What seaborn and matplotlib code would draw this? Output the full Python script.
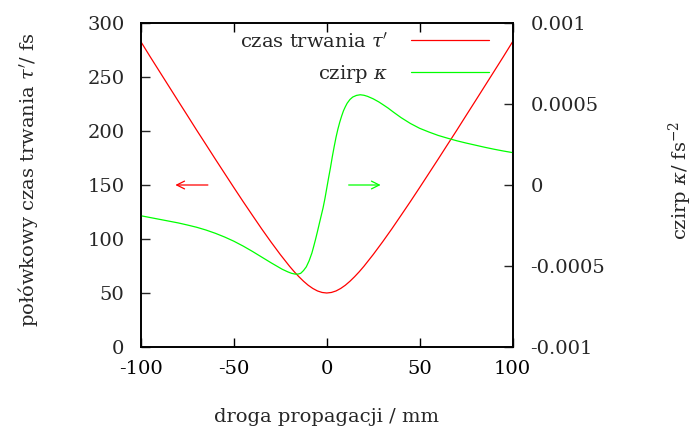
import matplotlib
matplotlib.use("Agg")
import matplotlib.pyplot as plt
import seaborn as sns
import pandas as pd

# pulse duration tau' (fs) vs propagation distance (mm)
z_tau = [-100, -95, -90, -85, -80, -75, -70, -65, -60, -55, -50, -45, -40, -35,
         -30, -25, -20, -17.5, -15, -12.5, -10, -7.5, -5, -2.5, 0, 2.5, 5, 7.5,
         10, 12.5, 15, 17.5, 20, 25, 30, 35, 40, 45, 50,
         55, 60, 65, 70, 75, 80, 85, 90, 95, 100]
tau = [282.5, 268.6, 255.0, 241.4, 227.8, 214.3, 200.7, 187.4, 174.0, 160.8,
       147.6, 134.6, 121.9, 109.3, 97.2, 85.6, 74.7, 69.7, 65.1, 60.9, 57.2,
       54.2, 51.9, 50.5, 50.0, 50.5, 51.9, 54.2, 57.2, 60.9, 65.1, 69.7,
       74.7, 85.6, 97.2, 109.3, 121.9, 134.6, 147.6, 160.8,
       174.0, 187.4, 200.7, 214.3, 227.8, 241.4, 255.0, 268.6, 282.5]

# chirp kappa (fs^-2) vs propagation distance (mm)
z_kappa = [-100, -95, -90, -85, -80, -75, -70, -65, -60, -55, -50, -45, -40,
           -35, -30, -27, -24, -21, -19, -17, -15.5, -14, -12.5, -11, -9.5, -8,
           -7, -6, -5, -4, -3, -2, -1, 0, 1, 2, 3, 4, 5, 6, 7, 8, 9, 10, 11,
           12.5, 14, 16, 18, 20, 22, 25, 28, 30, 33, 36, 40, 45, 50, 55, 60,
           65, 70, 75, 80, 85, 90, 95, 100]
kappa = [-0.00019, -0.000201, -0.000212, -0.000223, -0.000234, -0.000247,
         -0.000261, -0.000278, -0.000298, -0.000321, -0.000347, -0.000377,
         -0.00041, -0.000445, -0.00048, -0.0005, -0.00052, -0.000536,
         -0.000545, -0.00055, -0.00055, -0.000545, -0.000528, -0.000505,
         -0.000468, -0.00042, -0.000378, -0.000334, -0.000287, -0.000238,
         -0.00019, -0.000142, -0.000085, -0.00002, 0.000045, 0.000107,
         0.000175, 0.000237, 0.000295, 0.000345, 0.000388, 0.000425,
         0.000458, 0.000483, 0.000505, 0.000528, 0.000543, 0.000553,
         0.000557, 0.000554, 0.000547, 0.000532, 0.000513, 0.000498,
         0.000475, 0.000449, 0.000416, 0.00038, 0.00035, 0.000327,
         0.000306, 0.000289, 0.000273, 0.000259, 0.000246, 0.000233,
         0.000221, 0.00021, 0.0002]

x_ticks = [-100, -50, 0, 50, 100]
x_ticklabels = ["-100", "-50", "0", "50", "100"]
y1_ticks = [0, 50, 100, 150, 200, 250, 300]
y1_ticklabels = ["0", "50", "100", "150", "200", "250", "300"]
y2_ticks = [-0.001, -0.0005, 0, 0.0005, 0.001]
y2_ticklabels = ["-0.001", "-0.0005", "0", "0.0005", "0.001"]

legend_tau = "czas trwania $\\tau'$"
legend_kappa = "czirp $\\kappa$"

sns.set_style("white")
plt.rcParams["font.family"] = ["DejaVu Serif"]
plt.rcParams["mathtext.fontset"] = "dejavuserif"
plt.rcParams["axes.unicode_minus"] = False
FS = 14

fig = plt.figure(figsize=(6.96, 4.30), dpi=100)
ax = fig.add_axes([141 / 696, 1 - 347 / 430, (512.5 - 141) / 696, (347 - 23) / 430])
ax2 = ax.twinx()

df_tau = pd.DataFrame({"z": z_tau, "tau": tau})
df_kap = pd.DataFrame({"z": z_kappa, "kappa": kappa})

sns.lineplot(data=df_tau, x="z", y="tau", ax=ax, color="#ff0000", lw=0.9,
             label=legend_tau, legend=False)
sns.lineplot(data=df_kap, x="z", y="kappa", ax=ax2, color="#00ff00", lw=0.9,
             label=legend_kappa, legend=False)

ax.set_xlim(-100, 100)
ax.set_ylim(0, 300)
ax2.set_ylim(-0.001, 0.001)

ax.set_xticks(x_ticks)
ax.set_xticklabels(x_ticklabels, fontsize=FS)
ax.set_yticks(y1_ticks)
ax.set_yticklabels(y1_ticklabels, fontsize=FS)
ax2.set_yticks(y2_ticks)
ax2.set_yticklabels(y2_ticklabels, fontsize=FS)

ax.tick_params(axis="x", direction="in", length=6.5, width=1, top=True,
               bottom=True, pad=9, colors="black")
ax.tick_params(axis="y", direction="in", length=6.5, width=1, left=True,
               right=False, pad=12)
ax2.tick_params(axis="y", direction="in", length=6.5, width=1, right=True,
                left=False, pad=13)
for a in (ax, ax2):
    for s in a.spines.values():
        s.set_linewidth(1.2)
        s.set_color("black")
ax.set_xlabel("")
ax.set_ylabel("")
ax2.set_ylabel("")

# arrows indicating axes
ax.annotate("", xy=(-83, 150), xytext=(-62.5, 150),
            arrowprops=dict(arrowstyle="->", color="#ff0000", lw=0.9,
                            mutation_scale=14))
ax.annotate("", xy=(30.5, 150), xytext=(10.3, 150),
            arrowprops=dict(arrowstyle="->", color="#00ff00", lw=0.9,
                            mutation_scale=14))

h1, l1 = ax.get_legend_handles_labels()
h2, l2 = ax2.get_legend_handles_labels()
leg = ax2.legend(h1 + h2, l1 + l2, loc="upper right",
                 bbox_to_anchor=((489 - 141) / 371.5, 0.972),
                 frameon=False, markerfirst=False, fontsize=FS,
                 handlelength=4.0, handletextpad=1.2, labelspacing=0.6,
                 borderpad=0, borderaxespad=0)

fig.text(28 / 696, 1 - 180 / 430, "połówkowy czas trwania $\\tau'$/ fs",
         rotation=90, ha="center", va="center", fontsize=FS)
fig.text(680 / 696, 1 - 180 / 430, "czirp $\\kappa$/ fs$^{-2}$",
         rotation=90, ha="center", va="center", fontsize=FS)
fig.text(327 / 696, 1 - 417 / 430, "droga propagacji / mm",
         ha="center", va="center", fontsize=FS)

fig.savefig("out.png", dpi=100)
